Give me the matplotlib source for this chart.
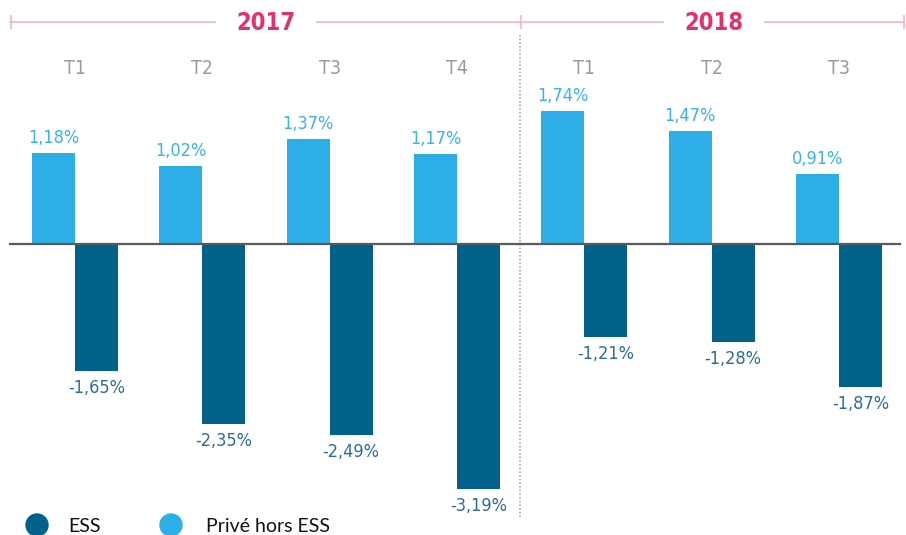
import matplotlib
matplotlib.use("Agg")
import matplotlib.pyplot as plt
from matplotlib.patches import Circle

quarters = ["T1", "T2", "T3", "T4", "T1", "T2", "T3"]
years = ["2017", "2018"]
prive = [1.18, 1.02, 1.37, 1.17, 1.74, 1.47, 0.91]
ess = [-1.65, -2.35, -2.49, -3.19, -1.21, -1.28, -1.87]
legend_labels = ["ESS", "Privé hors ESS"]

C_LIGHT = "#2eaee6"
C_LIGHT_TXT = "#3ab3e8"
C_DARK = "#00618b"
C_DARK_TXT = "#2a6e96"
C_PINK = "#e5306e"
C_PINK_LINE = "#f6b8cc"
C_GRAY = "#9a9a9a"

W, H = 906, 535
fig = plt.figure(figsize=(W / 100, H / 100), dpi=100)

# pixel mapping for main axes
x0, dx = 75.0, 127.33
y0, dy = 244.0, 76.7
ax = fig.add_axes([0, 0, 1, 1])
ax.set_xlim(-x0 / dx, (W - x0) / dx)
ax.set_ylim(-(H - y0) / dy, y0 / dy)
ax.axis("off")

bw = 43 / dx
idx = list(range(len(quarters)))
ax.bar([i - bw / 2 for i in idx], prive, width=bw, color=C_LIGHT, zorder=2)
ax.bar([i + bw / 2 for i in idx], ess, width=bw, color=C_DARK, zorder=2)

vfont = dict(family="DejaVu Sans", fontstretch="condensed", fontsize=13)
for i, v in enumerate(prive):
    ax.annotate(f"{v:.2f}%".replace(".", ","), (i - bw / 2, v), xytext=(0, 15),
                textcoords="offset pixels", ha="center", va="center",
                color=C_LIGHT_TXT, **vfont)
for i, v in enumerate(ess):
    ax.annotate(f"{v:.2f}%".replace(".", ","), (i + bw / 2, v), xytext=(0, -17),
                textcoords="offset pixels", ha="center", va="center",
                color=C_DARK_TXT, **vfont)

# overlay axes in pixel coordinates for decorations
ov = fig.add_axes([0, 0, 1, 1])
ov.set_xlim(0, W)
ov.set_ylim(H, 0)
ov.axis("off")
ov.patch.set_alpha(0)

# zero line
ov.plot([10, 900], [y0, y0], color="#5a5a5a", lw=1.6, zorder=3)
# dotted separator
ov.plot([519.5, 519.5], [35, 518], color="#aaaaaa", lw=1.2, ls=(0, (1, 1.2)), zorder=1)

# header line with ticks
hy = 22
ov.plot([10, 215], [hy, hy], color=C_PINK_LINE, lw=1.3)
ov.plot([317, 663], [hy, hy], color=C_PINK_LINE, lw=1.3)
ov.plot([765, 904], [hy, hy], color=C_PINK_LINE, lw=1.3)
for xt in [10.5, 520.5, 904]:
    ov.plot([xt, xt], [hy - 6, hy + 6], color=C_PINK_LINE, lw=1.3)
ov.text(266, hy + 1, years[0], ha="center", va="center", color=C_PINK,
        fontsize=17, fontweight="bold", family="DejaVu Sans", fontstretch="condensed")
ov.text(714, hy + 1, years[1], ha="center", va="center", color=C_PINK,
        fontsize=17, fontweight="bold", family="DejaVu Sans", fontstretch="condensed")

for i, q in enumerate(quarters):
    ov.text(x0 + dx * i, 69, q, ha="center", va="center", color=C_GRAY,
            fontsize=14, family="DejaVu Sans", fontstretch="condensed")

# legend
ov.add_patch(Circle((37, 525), 11, color=C_DARK))
ov.add_patch(Circle((171, 525), 11, color=C_LIGHT))
ov.text(68, 526, legend_labels[0], ha="left", va="center", color="#111111",
        fontsize=14, family="Lato")
ov.text(206, 526, legend_labels[1], ha="left", va="center", color="#111111",
        fontsize=14, family="Lato")

fig.savefig("out.png", dpi=100)
